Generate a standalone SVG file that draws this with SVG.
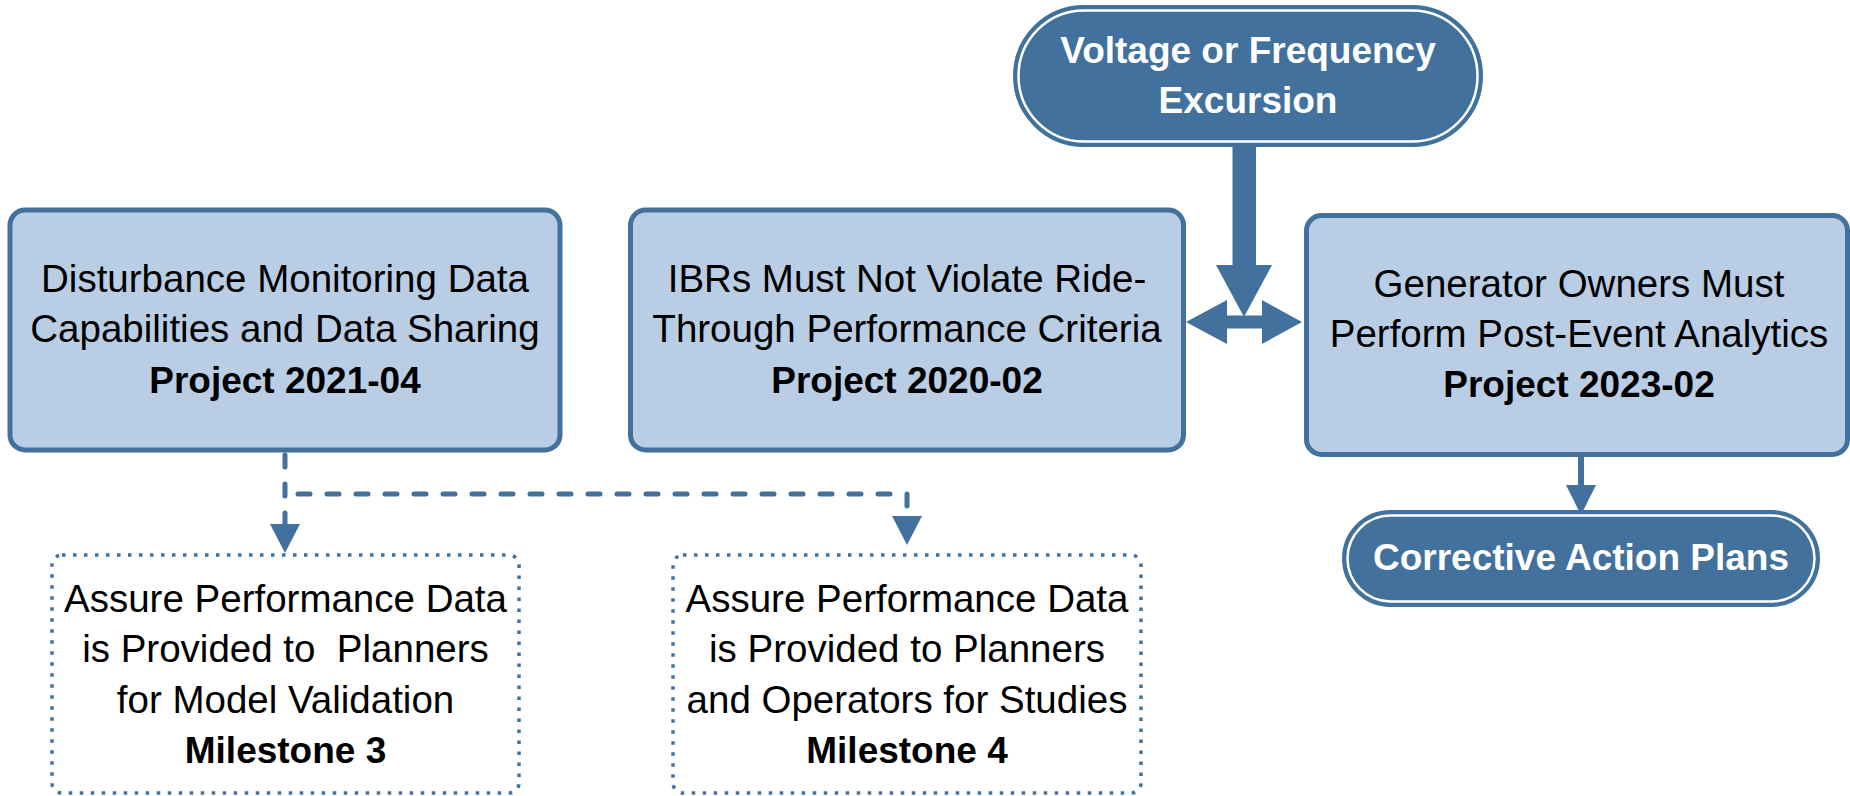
<svg xmlns="http://www.w3.org/2000/svg" width="1850" height="796" viewBox="0 0 1850 796">
  <style>
    text { font-family: "Liberation Sans", Arial, sans-serif; text-anchor: middle; }
    .t { font-size: 38.5px; fill: #000000; }
    .b { font-size: 37px; font-weight: bold; fill: #000000; }
    .w { font-size: 37px; font-weight: bold; fill: #FFFFFF; }
    .box { fill: #B9CDE5; stroke: #41719C; stroke-width: 5; }
    .dot { fill: #FFFFFF; stroke: #41719C; stroke-width: 3.5; stroke-dasharray: 3.5 7.5; }
    .pill { fill: #41719C; stroke: #41719C; stroke-width: 2; }
    .pillin { fill: none; stroke: #FFFFFF; stroke-width: 2.5; }
    .dash { fill: none; stroke: #41719C; stroke-width: 5; stroke-linecap: round; stroke-dasharray: 12 17; }
    .ah { fill: #41719C; }
  </style>

  <g id="connectors">
    <!-- Excursion down arrow -->
    <rect x="1232.5" y="145" width="23.5" height="121" class="ah"/>
    <polygon points="1216,265 1272,265 1244,317" class="ah"/>
    <!-- double-headed horizontal arrow -->
    <polygon points="1186,322 1227,300 1227,315.5 1262,315.5 1262,300 1302,322 1262,344 1262,328.5 1227,328.5 1227,344" class="ah"/>
    <!-- Project 2023-02 to Corrective Action Plans -->
    <line x1="1581" y1="456" x2="1581" y2="487" stroke="#41719C" stroke-width="6"/>
    <polygon points="1566,485 1596,485 1581,515" class="ah"/>
    <!-- dashed connectors from Project 2021-04 -->
    <path d="M285 455 V525" class="dash"/>
    <path d="M298 494 H907 V506" class="dash"/>
    <polygon points="270,524 300,524 285,553" class="ah"/>
    <polygon points="892,516 922,516 907,545" class="ah"/>
  </g>

  <g id="excursion">
    <rect x="1014" y="6" width="468" height="140" rx="70" class="pill"/>
    <rect x="1018.5" y="10.5" width="459" height="131" rx="65.5" class="pillin"/>
    <text x="1248" y="63" class="w">Voltage or Frequency</text>
    <text x="1248" y="113" class="w">Excursion</text>
  </g>

  <g id="project-2021-04">
    <rect x="10" y="210" width="550" height="240" rx="15" class="box"/>
    <text x="285" y="292" class="t">Disturbance Monitoring Data</text>
    <text x="285" y="342" class="t">Capabilities and Data Sharing</text>
    <text x="285" y="393" class="b">Project 2021-04</text>
  </g>

  <g id="project-2020-02">
    <rect x="630.5" y="210" width="553" height="240" rx="15" class="box"/>
    <text x="907" y="292" class="t">IBRs Must Not Violate Ride-</text>
    <text x="907" y="342" class="t">Through Performance Criteria</text>
    <text x="907" y="393" class="b">Project 2020-02</text>
  </g>

  <g id="project-2023-02">
    <rect x="1306.5" y="215.5" width="541" height="239" rx="15" class="box"/>
    <text x="1579" y="297" class="t">Generator Owners Must</text>
    <text x="1579" y="347" class="t">Perform Post-Event Analytics</text>
    <text x="1579" y="397" class="b">Project 2023-02</text>
  </g>

  <g id="corrective-action-plans">
    <rect x="1343" y="511" width="476" height="95" rx="47.5" class="pill"/>
    <rect x="1347.5" y="515.5" width="467" height="86" rx="43" class="pillin"/>
    <text x="1581" y="570" class="w">Corrective Action Plans</text>
  </g>

  <g id="milestone-3">
    <rect x="52" y="555" width="467" height="238" rx="10" class="dot"/>
    <text x="285.5" y="612" class="t">Assure Performance Data</text>
    <text x="285.5" y="662" class="t" xml:space="preserve">is Provided to  Planners</text>
    <text x="285.5" y="713" class="t">for Model Validation</text>
    <text x="285.5" y="763" class="b">Milestone 3</text>
  </g>

  <g id="milestone-4">
    <rect x="673" y="555" width="468" height="238" rx="10" class="dot"/>
    <text x="907" y="612" class="t">Assure Performance Data</text>
    <text x="907" y="662" class="t">is Provided to Planners</text>
    <text x="907" y="713" class="t">and Operators for Studies</text>
    <text x="907" y="763" class="b">Milestone 4</text>
  </g>
</svg>
